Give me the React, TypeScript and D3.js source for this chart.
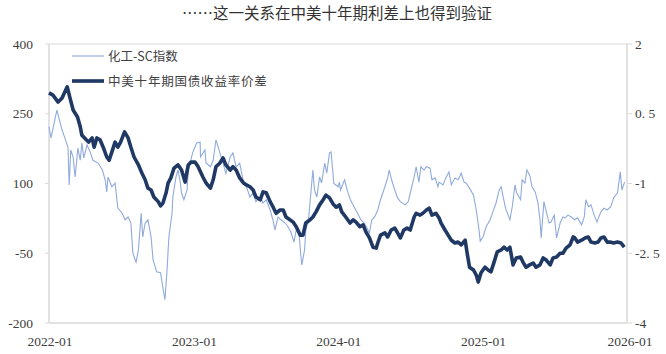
import React from "react";
import * as d3 from "d3";

const TITLE = "……这一关系在中美十年期利差上也得到验证";
const SERIES_NAMES = ["化工-SC指数", "中美十年期国债收益率价差"];
const X_TICKS = ["2022-01", "2023-01", "2024-01", "2025-01", "2026-01"];
const LEFT_TICKS = [400, 250, 100, -50, -200];
const RIGHT_TICKS = [2, 0.5, -1, -2.5, -4];
const RIGHT_TICK_LABELS = ["2", "0. 5", "-1", "-2. 5", "-4"];

// 化工-SC指数 (left axis)
const chemSc: [string, number][] = [
  ["2022-01-01", 222], ["2022-01-06", 198], ["2022-01-21", 258], ["2022-02-03", 215],
  ["2022-02-10", 198], ["2022-02-18", 178], ["2022-02-21", 97], ["2022-02-25", 172],
  ["2022-03-03", 157], ["2022-03-08", 114], ["2022-03-15", 176], ["2022-03-21", 150],
  ["2022-03-25", 187], ["2022-03-30", 155], ["2022-04-07", 183], ["2022-04-15", 168],
  ["2022-04-22", 150], ["2022-05-05", 144], ["2022-05-16", 129], ["2022-05-23", 108],
  ["2022-05-27", 82], ["2022-05-30", 114], ["2022-06-09", 93], ["2022-06-17", 101],
  ["2022-06-24", 47], ["2022-07-05", 36], ["2022-07-12", 22], ["2022-07-20", 28],
  ["2022-07-27", 15], ["2022-08-01", -50], ["2022-08-09", -69], ["2022-08-15", -43],
  ["2022-08-22", 36], ["2022-08-26", -15], ["2022-09-01", 15], ["2022-09-08", 22],
  ["2022-09-16", -15], ["2022-09-21", -64], ["2022-09-30", -90], ["2022-10-10", -92],
  ["2022-10-14", -114], ["2022-10-21", -150], ["2022-10-26", -92], ["2022-10-31", -15],
  ["2022-11-08", 36], ["2022-11-10", 71], ["2022-11-18", 114], ["2022-11-23", 129],
  ["2022-11-28", 108], ["2022-12-02", 80], ["2022-12-08", 65], ["2022-12-16", 86],
  ["2022-12-19", 129], ["2022-12-30", 166], ["2023-01-09", 187], ["2023-01-18", 189],
  ["2023-01-19", 157], ["2023-01-30", 172], ["2023-02-02", 144], ["2023-02-13", 136],
  ["2023-02-20", 150], ["2023-02-27", 194], ["2023-03-09", 166], ["2023-03-17", 144],
  ["2023-03-24", 122], ["2023-04-04", 157], ["2023-04-11", 166], ["2023-04-19", 136],
  ["2023-04-28", 144], ["2023-05-08", 101], ["2023-05-15", 93], ["2023-05-24", 71],
  ["2023-06-01", 80], ["2023-06-08", 61], ["2023-06-19", 71], ["2023-06-26", 58],
  ["2023-07-04", 65], ["2023-07-14", 43], ["2023-07-21", 22], ["2023-07-26", 0],
  ["2023-08-03", 28], ["2023-08-10", 22], ["2023-08-21", 15], ["2023-08-28", 7],
  ["2023-09-05", -6], ["2023-09-12", -26], ["2023-09-18", 0], ["2023-09-25", -6],
  ["2023-09-29", -50], ["2023-10-02", -75], ["2023-10-09", -43], ["2023-10-12", 0],
  ["2023-10-19", 22], ["2023-10-24", 71], ["2023-10-30", 129], ["2023-11-03", 86],
  ["2023-11-09", 71], ["2023-11-16", 114], ["2023-11-21", 101], ["2023-11-29", 144],
  ["2023-12-04", 122], ["2023-12-11", 166], ["2023-12-15", 168], ["2023-12-22", 100],
  ["2024-01-02", 93], ["2024-01-05", 103], ["2024-01-08", 86], ["2024-01-18", 108],
  ["2024-01-26", 82], ["2024-02-02", 65], ["2024-02-13", 47], ["2024-02-20", 36],
  ["2024-02-28", 22], ["2024-03-08", 15], ["2024-03-15", 4], ["2024-03-21", -6],
  ["2024-03-27", 22], ["2024-04-03", 28], ["2024-04-11", 43], ["2024-04-18", 65],
  ["2024-04-29", 93], ["2024-05-06", 112], ["2024-05-10", 129], ["2024-05-16", 108],
  ["2024-05-24", 86], ["2024-05-31", 69], ["2024-06-07", 61], ["2024-06-19", 54],
  ["2024-06-27", 61], ["2024-07-04", 86], ["2024-07-12", 114], ["2024-07-17", 136],
  ["2024-07-24", 103], ["2024-07-29", 136], ["2024-08-06", 129], ["2024-08-12", 136],
  ["2024-08-21", 133], ["2024-08-26", 108], ["2024-09-03", 112], ["2024-09-10", 93],
  ["2024-09-13", 103], ["2024-09-23", 97], ["2024-09-30", 112], ["2024-10-08", 125],
  ["2024-10-14", 97], ["2024-10-23", 112], ["2024-10-31", 108], ["2024-11-08", 122],
  ["2024-11-15", 103], ["2024-11-20", 101], ["2024-11-29", 90], ["2024-12-09", 75],
  ["2024-12-16", 43], ["2024-12-23", 0], ["2024-12-26", -24], ["2025-01-02", -15],
  ["2025-01-10", 7], ["2025-01-20", 22], ["2025-01-27", 39], ["2025-02-04", 58],
  ["2025-02-12", 86], ["2025-02-17", 93], ["2025-02-21", 75], ["2025-02-28", 47],
  ["2025-03-11", 22], ["2025-03-17", 50], ["2025-03-24", 97], ["2025-03-28", 80],
  ["2025-04-07", 65], ["2025-04-11", 108], ["2025-04-18", 101], ["2025-04-23", 129],
  ["2025-04-30", 118], ["2025-05-06", 93], ["2025-05-14", 82], ["2025-05-21", 58],
  ["2025-05-26", 22], ["2025-05-29", -17], ["2025-06-05", 61], ["2025-06-10", 43],
  ["2025-06-18", 15], ["2025-06-23", 17], ["2025-07-01", 32], ["2025-07-07", -17],
  ["2025-07-16", 15], ["2025-07-23", 28], ["2025-07-28", 26], ["2025-08-05", 32],
  ["2025-08-13", 28], ["2025-08-22", 22], ["2025-08-29", 26], ["2025-09-08", 11],
  ["2025-09-15", 28], ["2025-09-19", 65], ["2025-09-26", 50], ["2025-10-02", 54],
  ["2025-10-10", 32], ["2025-10-17", 17], ["2025-10-27", 39], ["2025-11-04", 47],
  ["2025-11-12", 43], ["2025-11-21", 50], ["2025-11-28", 69], ["2025-12-08", 80],
  ["2025-12-15", 125], ["2025-12-19", 86], ["2025-12-26", 103],
];

// 中美十年期国债收益率价差 (right axis, %)
const cnUsSpread: [string, number][] = [
  ["2022-01-01", 0.95], ["2022-01-11", 0.9], ["2022-01-24", 0.75], ["2022-02-03", 0.84],
  ["2022-02-16", 1.08], ["2022-02-23", 0.84], ["2022-03-03", 0.58], ["2022-03-14", 0.43],
  ["2022-03-21", 0.22], ["2022-03-25", 0.04], ["2022-04-01", -0.02], ["2022-04-11", -0.11],
  ["2022-04-20", -0.02], ["2022-04-25", -0.22], ["2022-05-02", -0.02], ["2022-05-10", -0.06],
  ["2022-05-18", -0.22], ["2022-05-27", -0.43], ["2022-06-02", -0.5], ["2022-06-09", -0.32],
  ["2022-06-17", -0.11], ["2022-06-24", -0.22], ["2022-07-01", -0.11], ["2022-07-11", 0.11],
  ["2022-07-20", -0.02], ["2022-07-27", -0.22], ["2022-08-04", -0.43], ["2022-08-15", -0.6],
  ["2022-08-24", -0.78], ["2022-09-01", -0.92], ["2022-09-08", -1.1], ["2022-09-16", -1.14],
  ["2022-09-23", -1.29], ["2022-10-04", -1.39], ["2022-10-10", -1.48], ["2022-10-16", -1.42],
  ["2022-10-24", -1.2], ["2022-10-29", -0.99], ["2022-11-05", -0.88], ["2022-11-13", -0.67],
  ["2022-11-23", -0.6], ["2022-12-02", -0.71], ["2022-12-11", -0.97], ["2022-12-19", -0.6],
  ["2022-12-26", -0.54], ["2023-01-05", -0.54], ["2023-01-13", -0.64], ["2023-01-25", -0.86],
  ["2023-02-02", -0.99], ["2023-02-13", -1.1], ["2023-02-20", -0.92], ["2023-02-27", -0.64],
  ["2023-03-09", -0.56], ["2023-03-17", -0.45], ["2023-03-24", -0.6], ["2023-04-04", -0.71],
  ["2023-04-11", -0.64], ["2023-04-19", -0.71], ["2023-04-28", -0.88], ["2023-05-08", -0.99],
  ["2023-05-15", -1.03], ["2023-05-24", -1.07], ["2023-06-01", -1.14], ["2023-06-08", -1.29],
  ["2023-06-19", -1.35], ["2023-06-26", -1.18], ["2023-07-04", -1.2], ["2023-07-14", -1.39],
  ["2023-07-21", -1.5], ["2023-07-29", -1.64], ["2023-08-08", -1.57], ["2023-08-16", -1.57],
  ["2023-08-23", -1.72], ["2023-09-02", -1.78], ["2023-09-10", -1.83], ["2023-09-18", -1.93],
  ["2023-09-28", -2.11], ["2023-10-05", -2.11], ["2023-10-12", -1.85], ["2023-10-23", -1.78],
  ["2023-10-30", -1.72], ["2023-11-07", -1.61], ["2023-11-16", -1.46], ["2023-11-25", -1.35],
  ["2023-12-02", -1.25], ["2023-12-11", -1.31], ["2023-12-20", -1.44], ["2023-12-28", -1.51],
  ["2024-01-05", -1.46], ["2024-01-11", -1.61], ["2024-01-21", -1.72], ["2024-02-01", -1.85],
  ["2024-02-09", -1.78], ["2024-02-16", -1.83], ["2024-02-26", -1.93], ["2024-03-05", -1.89],
  ["2024-03-12", -2.04], ["2024-03-21", -2.17], ["2024-03-30", -2.37], ["2024-04-07", -2.39],
  ["2024-04-11", -2.28], ["2024-04-18", -2.11], ["2024-04-29", -2.06], ["2024-05-06", -2.15],
  ["2024-05-15", -2.0], ["2024-05-24", -1.96], ["2024-05-31", -2.06], ["2024-06-07", -2.17],
  ["2024-06-16", -2.0], ["2024-06-24", -1.96], ["2024-07-02", -2.0], ["2024-07-12", -1.72],
  ["2024-07-17", -1.64], ["2024-07-27", -1.68], ["2024-08-03", -1.64], ["2024-08-12", -1.57],
  ["2024-08-19", -1.53], ["2024-08-26", -1.68], ["2024-09-05", -1.64], ["2024-09-13", -1.74],
  ["2024-09-18", -1.85], ["2024-09-28", -2.0], ["2024-10-06", -2.11], ["2024-10-14", -2.22],
  ["2024-10-23", -2.28], ["2024-10-31", -2.26], ["2024-11-08", -2.32], ["2024-11-18", -2.22],
  ["2024-11-23", -2.5], ["2024-11-29", -2.8], ["2024-12-09", -2.86], ["2024-12-16", -2.97],
  ["2024-12-21", -3.12], ["2024-12-28", -2.92], ["2025-01-07", -2.8], ["2025-01-15", -2.86],
  ["2025-01-22", -2.9], ["2025-01-30", -2.69], ["2025-02-07", -2.47], ["2025-02-17", -2.43],
  ["2025-02-24", -2.37], ["2025-03-04", -2.43], ["2025-03-11", -2.37], ["2025-03-19", -2.75],
  ["2025-03-27", -2.6], ["2025-04-07", -2.58], ["2025-04-13", -2.69], ["2025-04-21", -2.8],
  ["2025-04-30", -2.75], ["2025-05-09", -2.71], ["2025-05-16", -2.8], ["2025-05-26", -2.75],
  ["2025-06-03", -2.6], ["2025-06-10", -2.64], ["2025-06-21", -2.75], ["2025-06-28", -2.6],
  ["2025-07-07", -2.58], ["2025-07-16", -2.5], ["2025-07-23", -2.5], ["2025-07-31", -2.39],
  ["2025-08-10", -2.32], ["2025-08-18", -2.15], ["2025-08-22", -2.17], ["2025-08-29", -2.26],
  ["2025-09-08", -2.22], ["2025-09-17", -2.17], ["2025-09-25", -2.15], ["2025-10-02", -2.26],
  ["2025-10-12", -2.28], ["2025-10-20", -2.26], ["2025-10-27", -2.17], ["2025-11-04", -2.15],
  ["2025-11-12", -2.26], ["2025-11-21", -2.26], ["2025-11-28", -2.28], ["2025-12-08", -2.26],
  ["2025-12-17", -2.28], ["2025-12-25", -2.37],
];

const W = 666;
const H = 354;
const M = { left: 49, right: 627, top: 44, bottom: 323 };
const LIGHT = "#8faadc";
const DARK = "#1f3864";
const AXIS = "#d9d9d9";
const TEXT = "#404040";
const NUM_FONT = "'Liberation Serif', 'Times New Roman', serif";
const CJK_FONT = "'Noto Sans CJK SC', 'Noto Sans', sans-serif";

export default function App() {
  const parse = d3.timeParse("%Y-%m-%d");
  const parseMonth = d3.timeParse("%Y-%m");
  const x = d3
    .scaleTime()
    .domain([parseMonth(X_TICKS[0]) as Date, parseMonth(X_TICKS[X_TICKS.length - 1]) as Date])
    .range([M.left, M.right]);
  const yL = d3.scaleLinear().domain([-200, 400]).range([M.bottom, M.top]);
  const yR = d3.scaleLinear().domain([-4, 2]).range([M.bottom, M.top]);

  const lineL = d3
    .line<[string, number]>()
    .x((d) => x(parse(d[0]) as Date))
    .y((d) => yL(d[1]));
  const lineR = d3
    .line<[string, number]>()
    .x((d) => x(parse(d[0]) as Date))
    .y((d) => yR(d[1]));

  return (
    <svg
      width={W}
      height={H}
      style={{ position: "absolute", left: 0, top: 0, background: "#fff" }}
    >
      <rect x={0} y={0} width={W} height={H} fill="#fff" />
      <text
        x={337}
        y={19}
        textAnchor="middle"
        fontFamily={CJK_FONT}
        fontSize={15.5}
        fill="#333"
      >
        {TITLE}
      </text>

      {/* frame */}
      <line x1={M.left} x2={M.right} y1={M.top} y2={M.top} stroke={AXIS} strokeWidth={1} />
      <line x1={M.left} x2={M.left} y1={M.top} y2={M.bottom} stroke={AXIS} strokeWidth={1.5} />
      <line x1={M.right} x2={M.right} y1={M.top} y2={M.bottom} stroke={AXIS} strokeWidth={1.5} />
      <line x1={M.left} x2={M.right} y1={M.bottom} y2={M.bottom} stroke={AXIS} strokeWidth={1.5} />

      {LEFT_TICKS.map((t) => (
        <g key={"l" + t}>
          <line x1={M.left - 4} x2={M.left} y1={yL(t)} y2={yL(t)} stroke={AXIS} />
          <text
            x={33}
            y={yL(t) + 4.5}
            textAnchor="end"
            fontFamily={NUM_FONT}
            fontSize={13.5}
            fill={TEXT}
          >
            {t < 0 ? "-" + Math.abs(t) : String(t)}
          </text>
        </g>
      ))}

      {RIGHT_TICKS.map((t, i) => (
        <g key={"r" + t}>
          <line x1={M.right} x2={M.right + 5} y1={yR(t)} y2={yR(t)} stroke={AXIS} />
          <text
            x={635}
            y={yR(t) + 4.5}
            textAnchor="start"
            fontFamily={NUM_FONT}
            fontSize={13.5}
            fill={TEXT}
          >
            {RIGHT_TICK_LABELS[i]}
          </text>
        </g>
      ))}

      {X_TICKS.map((t, i) => (
        <text
          key={"x" + t}
          x={x(parseMonth(t) as Date) + (i === X_TICKS.length - 1 ? 3 : 1)}
          y={346}
          textAnchor="middle"
          fontFamily={NUM_FONT}
          fontSize={13.5}
          fill={TEXT}
        >
          {t}
        </text>
      ))}

      <path d={lineL(chemSc) || ""} fill="none" stroke={LIGHT} strokeWidth={1.1} />
      <path
        d={lineR(cnUsSpread) || ""}
        fill="none"
        stroke={DARK}
        strokeWidth={3.6}
        strokeLinejoin="round"
      />

      {/* legend */}
      <line x1={72} x2={104} y1={56} y2={56} stroke={LIGHT} strokeWidth={1.1} />
      <text x={108} y={61} fontFamily={CJK_FONT} fontSize={12.5} fill={TEXT}>
        {SERIES_NAMES[0]}
      </text>
      <line x1={72} x2={104} y1={81} y2={81} stroke={DARK} strokeWidth={3.6} />
      <text
        x={108}
        y={86}
        fontFamily={CJK_FONT}
        fontSize={12.5}
        letterSpacing={0.8}
        fill={TEXT}
      >
        {SERIES_NAMES[1]}
      </text>
    </svg>
  );
}
